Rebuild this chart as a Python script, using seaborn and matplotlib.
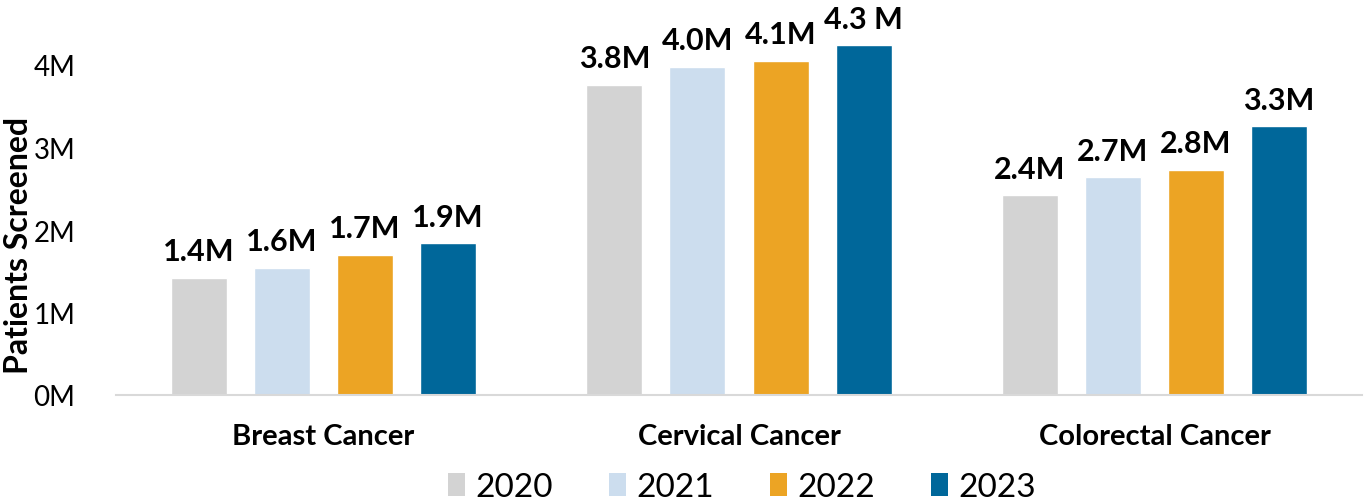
import matplotlib
matplotlib.use("Agg")
import matplotlib.pyplot as plt
import seaborn as sns
import pandas as pd
from matplotlib.patches import Patch

categories = ["Breast Cancer", "Cervical Cancer", "Colorectal Cancer"]
years = ["2020", "2021", "2022", "2023"]
values = {
    "2020": [1.42, 3.76, 2.42],
    "2021": [1.54, 3.98, 2.64],
    "2022": [1.70, 4.05, 2.73],
    "2023": [1.84, 4.24, 3.26],
}
labels = {
    "2020": ["1.4M", "3.8M", "2.4M"],
    "2021": ["1.6M", "4.0M", "2.7M"],
    "2022": ["1.7M", "4.1M", "2.8M"],
    "2023": ["1.9M", "4.3 M", "3.3M"],
}
y_ticks = [0, 1, 2, 3, 4]
y_tick_labels = ["0M", "1M", "2M", "3M", "4M"]
colors = ["#D3D3D3", "#CCDDEE", "#ECA424", "#00679A"]

rows = []
for y in years:
    for c, v in zip(categories, values[y]):
        rows.append({"Category": c, "Year": y, "Value": v})
df = pd.DataFrame(rows)

sns.set_theme(style="white")
plt.rcParams["font.family"] = ["Lato", "DejaVu Sans"]
plt.rcParams["text.color"] = "black"

fig = plt.figure(figsize=(13.64, 5.02), dpi=100)
ax = fig.add_axes([115.75 / 1364, 106 / 502, 1246.5 / 1364, 396 / 502])

sns.barplot(data=df, x="Category", y="Value", hue="Year", order=categories,
            hue_order=years, palette=colors, gap=0.325, width=0.8,
            saturation=1, legend=False, ax=ax)

for cont, y in zip(ax.containers, years):
    ax.bar_label(cont, labels=labels[y], padding=9, fontsize=22,
                 fontweight="bold", color="black")

ax.set_ylim(0, 4.8)
ax.set_xlim(-0.5, 2.5)
ax.set_yticks(y_ticks)
ax.set_yticklabels(y_tick_labels, fontsize=20, color="black")
ax.tick_params(axis="y", length=0, pad=29)
ax.tick_params(axis="x", length=0, pad=20)
for t in ax.get_xticklabels():
    t.set_fontsize(21)
    t.set_fontweight("bold")
    t.set_color("black")
ax.set_xlabel("")
ax.set_ylabel("Patients Screened", fontsize=23, fontweight="bold", color="black")
ax.yaxis.set_label_coords(-0.066, 0.381)

for s in ["top", "right", "left"]:
    ax.spines[s].set_visible(False)
ax.spines["bottom"].set_color("#D9D9D9")
ax.spines["bottom"].set_linewidth(1.5)

handles = [Patch(facecolor=c, edgecolor="none", label=y) for c, y in zip(colors, years)]
fig.legend(handles=handles, loc="center", bbox_to_anchor=(0.544, 0.028), ncol=4,
           frameon=False, fontsize=24, handlelength=0.5, handleheight=0.67,
           handletextpad=0.3, columnspacing=1.7, labelcolor="black")

fig.savefig("out.png", dpi=100)
